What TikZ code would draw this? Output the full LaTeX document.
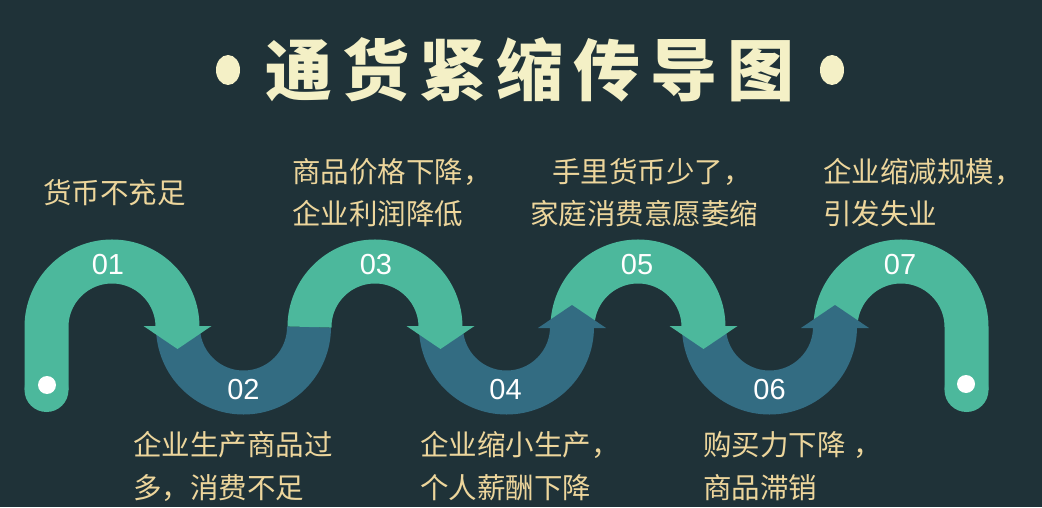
\documentclass[tikz,border=0pt]{standalone}
\usepackage{fontspec}
\newfontfamily\cjk{Noto Sans CJK SC}
\newfontfamily\numfont{Liberation Sans}
\usetikzlibrary{shapes.geometric}
\definecolor{bg}{HTML}{1F3238}
\definecolor{grn}{HTML}{4CB89C}
\definecolor{blu}{HTML}{336C82}
\definecolor{cream}{HTML}{F4F0C6}
\definecolor{gold}{HTML}{EDD69C}
\newcommand{\tc}[1]{\makebox[77pt]{#1}}
\begin{document}
\begin{tikzpicture}[x=1pt,y=1pt,
  ribG/.style={draw=grn, line width=44pt},
  ribB/.style={draw=blu, line width=44pt},
  num/.style={text=white, font=\numfont\fontsize{29}{29}\selectfont, inner sep=0},
  lbl/.style={text=gold, font=\cjk\fontsize{28.5}{28.5}\selectfont, anchor=west, inner sep=0},
  bullet/.style={ellipse, fill=cream, minimum width=24pt, minimum height=30pt, inner sep=0},
  dot/.style={circle, fill=white, minimum size=18pt, inner sep=0}]
\fill[bg] (0,0) rectangle (1042,507);
\useasboundingbox (0,0) rectangle (1042,507);
% title
\node[text=cream, font=\cjk\bfseries\fontsize{67}{67}\selectfont, inner sep=0] (title) at (530,437)
  {\tc{通}\tc{货}\tc{紧}\tc{缩}\tc{传}\tc{导}\tc{图}};
\node[bullet] (bl) at (228,437) {};
\node[bullet] (br) at (832,437) {};
% coordinates of arc centres
\coordinate (c1) at (112,180);
\coordinate (c2) at (243.5,180);
\coordinate (c3) at (375,180);
\coordinate (c4) at (506.5,180);
\coordinate (c5) at (638,180);
\coordinate (c6) at (769.5,180);
\coordinate (c7) at (901,180);
\coordinate (lend) at (46.5,117);
\coordinate (rend) at (966.5,117);
% blue lower arcs
\draw[ribB] ([xshift=-65.5pt]c2) arc[start angle=180,end angle=360,radius=65.5];
\draw[ribB] ([xshift=-65.5pt]c4) arc[start angle=180,end angle=360,radius=65.5];
\draw[ribB] ([xshift=-65.5pt]c6) arc[start angle=180,end angle=360,radius=65.5];
% green upper arcs and legs
\draw[ribG] (lend) -- ([xshift=-65.5pt]c1) arc[start angle=180,end angle=0,radius=65.5];
\draw[ribG] ([xshift=-65.5pt]c3) arc[start angle=180,end angle=0,radius=65.5];
\draw[ribG] ([xshift=-65.5pt]c5) arc[start angle=180,end angle=0,radius=65.5];
\draw[ribG] ([xshift=-65.5pt]c7) arc[start angle=180,end angle=0,radius=65.5] -- (rend);
\fill[grn] (lend) circle (22);
\fill[grn] (rend) circle (22);
% green arrowheads (down)
\fill[grn] (143.5,181) -- (211.5,181) -- (177.5,158) -- cycle;
\fill[grn] (406.5,181) -- (474.5,181) -- (440.5,158) -- cycle;
\fill[grn] (669.5,181) -- (737.5,181) -- (703.5,158) -- cycle;
% blue arrowheads (up)
\fill[blu] (538,179) -- (606,179) -- (572,202) -- cycle;
\fill[blu] (801,179) -- (869,179) -- (835,202) -- cycle;
% end dots
\node[dot] (d1) at (47,122) {};
\node[dot] (d2) at (966,123) {};
% numbers
\node[num] (n1) at (108,242) {01};
\node[num] (n2) at (243.5,117) {02};
\node[num] (n3) at (376,242) {03};
\node[num] (n4) at (505.5,117) {04};
\node[num] (n5) at (637,242) {05};
\node[num] (n6) at (769.5,117) {06};
\node[num] (n7) at (900,242) {07};
% labels
\node[lbl] (t1) at (43,314) {货币不充足};
\node[lbl] (t3a) at (292,335) {商品价格下降，};
\node[lbl] (t3b) at (292,293) {企业利润降低};
\node[lbl] (t5a) at (552,335) {手里货币少了，};
\node[lbl] (t5b) at (530,293) {家庭消费意愿萎缩};
\node[lbl] (t7a) at (823,335) {企业缩减规模，};
\node[lbl] (t7b) at (823,293) {引发失业};
\node[lbl] (t2a) at (133,62) {企业生产商品过};
\node[lbl] (t2b) at (133,19) {多，消费不足};
\node[lbl] (t4a) at (420,62) {企业缩小生产，};
\node[lbl] (t4b) at (420,19) {个人薪酬下降};
\node[lbl] (t6a) at (703,62) {购买力下降\hspace{8pt}，};
\node[lbl] (t6b) at (703,19) {商品滞销};
\end{tikzpicture}
\end{document}
